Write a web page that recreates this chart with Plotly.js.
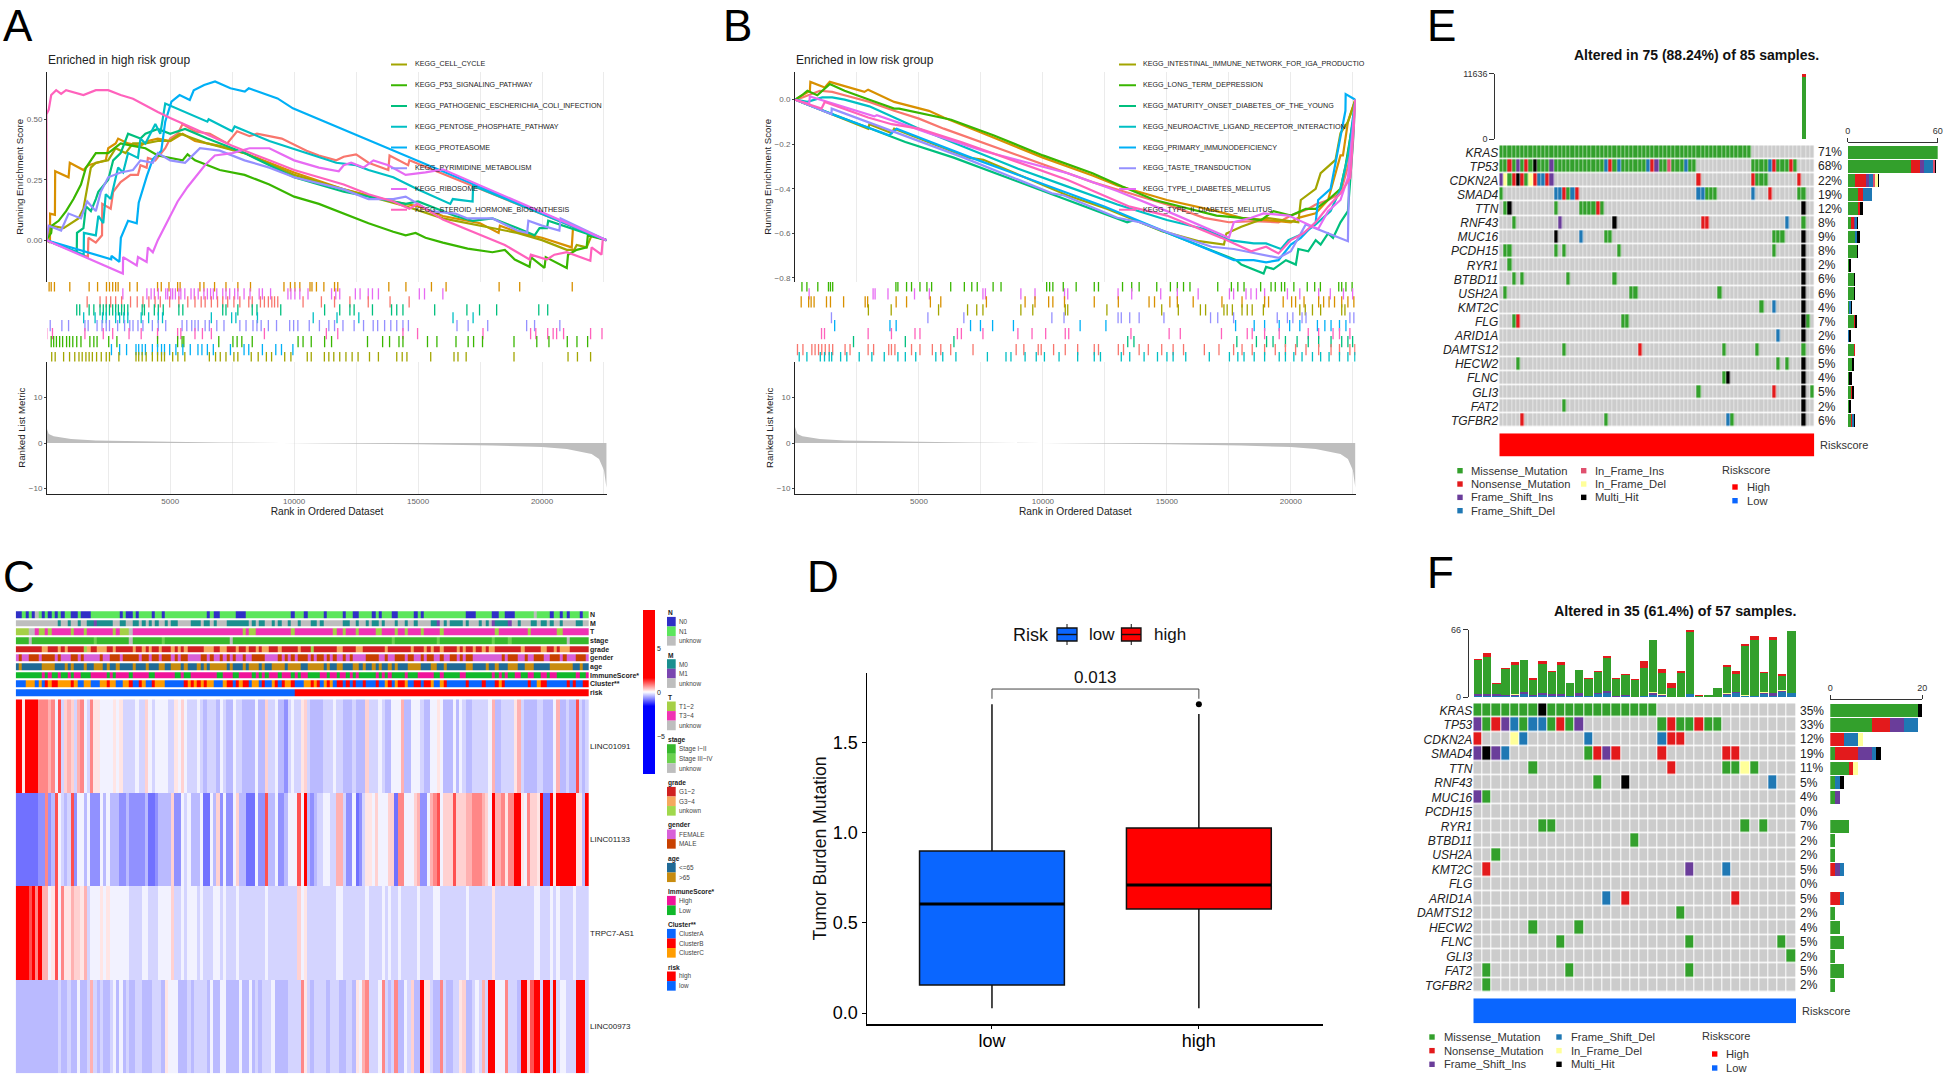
<!DOCTYPE html>
<html><head><meta charset="utf-8">
<script src="https://cdn.plot.ly/plotly-3.0.1.min.js"></script>
<style>html,body{margin:0;padding:0;background:#fff}</style>
</head><body><div id="chart" style="width:1944px;height:1078px"></div>
<script>
/* ---------- Panel A: GSEA running scores, [rank, score] ---------- */
const A_RAW_SALMON=[[1,0],[1680,-.07],[1700,.01],[2000,-.01],[2250,.02],[2260,.15],[2600,.13],[2700,.2],[3000,.24],[3400,.27],[3700,.27],[3800,.31],[4050,.30],[4100,.34],[4400,.33],[4800,.38],[5000,.42],[5300,.44],[5500,.48],[6000,.45],[6600,.44],[7300,.40],[7700,.45],[8200,.43],[8500,.44],[9500,.42],[10500,.37],[11000,.35],[11700,.33],[12000,.345],[12500,.355],[13000,.32],[13800,.29],[13850,.35],[14600,.31],[14650,.33],[22600,0]];
const A_RAW_ORANGE=[[1,0],[150,-.01],[155,.11],[350,.105],[360,.285],[900,.26],[950,.32],[1500,.29],[1700,.31],[2400,.33],[2500,.38],[2800,.40],[2900,.42],[3300,.40],[3800,.39],[4100,.41],[4500,.42],[5000,.41],[5500,.44],[6000,.41],[7000,.39],[8000,.36],[10000,.28],[12000,.21],[14000,.16],[15000,.14],[16000,.10],[17500,.07],[18250,.03],[18300,.06],[19100,.03],[20000,.01],[21200,-.03],[21250,.05],[22600,0]];
const A_CELL_CYCLE=[[1,0],[200,.06],[700,.05],[1000,.07],[1300,.09],[1500,.13],[1650,.22],[1800,.30],[2000,.32],[2500,.33],[2800,.38],[3200,.36],[3500,.40],[4000,.40],[4500,.41],[5000,.41],[5400,.44],[6500,.40],[8000,.36],[10000,.27],[12000,.21],[14500,.14],[16000,.09],[17500,.06],[19000,.03],[20000,0],[21000,-.04],[21300,-.04],[21400,-.02],[21800,-.03],[22000,.02],[22600,0]];
const A_P53=[[1,0],[200,.03],[230,.06],[500,.08],[800,.12],[1100,.17],[1400,.23],[1600,.30],[1800,.33],[2000,.36],[2500,.36],[3000,.40],[3500,.39],[4000,.38],[4500,.35],[5000,.34],[5500,.33],[5700,.355],[6000,.33],[7000,.29],[8000,.27],[9000,.23],[10000,.18],[11000,.15],[12000,.11],[13000,.07],[14000,.035],[14500,.02],[14900,.03],[15300,.01],[16000,-.01],[17000,-.035],[18000,-.05],[18500,-.04],[18900,-.08],[19500,-.11],[19550,-.07],[20100,-.115],[20150,-.07],[21000,-.115],[21050,-.06],[21400,-.04],[21800,-.03],[21850,.02],[22600,0]];
const A_PATHOGENIC=[[1,0],[1230,-.05],[1240,.03],[1500,.05],[1600,.14],[1800,.12],[2000,.17],[2100,.20],[2500,.25],[2700,.33],[3000,.36],[3300,.44],[3800,.42],[4000,.44],[4500,.46],[5000,.44],[5600,.46],[6500,.42],[8000,.36],[10000,.26],[12000,.20],[13000,.18],[14500,.15],[15000,.16],[16500,.10],[17200,.08],[18000,.09],[19000,.05],[19700,.02],[19900,.05],[20200,.05],[20250,.08],[22600,0]];
const A_PENTOSE=[[1,0],[1510,-.06],[1520,.03],[2000,.02],[2100,.10],[2300,.07],[2400,.19],[2600,.17],[2900,.3],[3100,.28],[3300,.36],[3700,.34],[3800,.42],[4000,.40],[4200,.44],[4400,.48],[4600,.44],[4800,.565],[6500,.49],[6550,.50],[7500,.45],[7600,.47],[9000,.41],[10500,.36],[11700,.32],[12500,.31],[13000,.29],[14000,.26],[15000,.21],[16300,.15],[16400,.17],[17200,.16],[17220,.225],[22600,0]];
const A_PROTEASOME=[[1,0],[2620,-.079],[2630,-.065],[2950,-.09],[3010,.01],[3300,.08],[3650,.07],[3730,.155],[4060,.266],[4300,.335],[4640,.37],[4800,.49],[5050,.573],[5380,.60],[5790,.58],[5950,.62],[6370,.642],[6810,.656],[7430,.628],[8010,.614],[8170,.628],[9330,.586],[9950,.545],[22600,0]];
const A_PYRIMIDINE=[[1,0],[100,.06],[600,.04],[900,.11],[1400,.09],[1650,.16],[2000,.12],[2200,.20],[2500,.26],[3000,.28],[3500,.29],[3800,.33],[4300,.32],[4500,.36],[5000,.33],[5600,.32],[6000,.36],[6200,.38],[7000,.37],[8000,.33],[9000,.30],[10000,.26],[12000,.21],[13000,.17],[14000,.17],[14500,.18],[15000,.15],[15500,.12],[16500,.11],[17000,.09],[18000,.09],[19000,.04],[19400,.03],[19450,.08],[20000,.06],[20700,.04],[20750,.09],[22600,0]];
const A_RIBOSOME=[[1,0],[3090,-.138],[3100,-.07],[3650,-.105],[3700,-.07],[4050,-.09],[4100,-.03],[4300,-.05],[4500,0],[5000,.10],[5300,.16],[5700,.22],[6100,.27],[6400,.31],[6800,.35],[7500,.36],[8200,.38],[9000,.38],[10000,.33],[11000,.30],[11800,.285],[12000,.31],[12300,.32],[12800,.30],[13200,.33],[13800,.31],[14500,.27],[15300,.28],[16000,.293],[22600,0]];
const A_STEROID=[[1,0],[5,.52],[100,.54],[200,.60],[400,.62],[600,.605],[800,.62],[1200,.61],[1500,.60],[2000,.62],[2500,.62],[3000,.60],[3500,.585],[4500,.53],[5000,.505],[6000,.46],[7500,.39],[9000,.33],[10000,.29],[11000,.26],[12000,.23],[13000,.19],[14000,.16],[14650,.13],[14980,.15],[16000,.085],[17500,.02],[18500,-.02],[19500,-.08],[19550,-.06],[20200,-.08],[20500,-.06],[21000,-.05],[21500,-.07],[21950,-.085],[22000,-.03],[22400,-.06],[22450,0]];

/* ---------- Panel B: GSEA running scores ---------- */
const B_RAW_SALMON=[[1,0],[300,.01],[1000,.04],[1500,.035],[2000,.02],[3000,-.01],[4000,-.05],[5000,-.085],[6000,-.13],[8000,-.21],[10000,-.29],[12000,-.37],[13500,-.42],[15000,-.47],[16500,-.53],[17500,-.55],[18500,-.545],[19500,-.55],[20000,-.52],[20700,-.49],[21000,-.47],[21500,-.45],[22000,-.42],[22300,-.3],[22500,-.15],[22600,0]];
const B_RAW_ORANGE=[[1,0],[300,.02],[600,.04],[620,.08],[1200,.055],[1400,.08],[2000,.06],[2800,.035],[2950,.045],[4000,-.01],[5400,-.05],[6000,-.08],[8000,-.17],[10000,-.26],[12000,-.34],[13000,-.385],[15000,-.45],[17000,-.5],[18000,-.53],[19000,-.54],[20000,-.55],[20300,-.53],[21000,-.51],[21500,-.45],[22000,-.25],[22100,-.25],[22300,-.1],[22600,0]];
const B_IGA=[[1,0],[2950,-.13],[3000,-.11],[3900,-.15],[4000,-.13],[5800,-.21],[7000,-.26],[7600,-.27],[9100,-.34],[11000,-.43],[12600,-.49],[14800,-.59],[16300,-.635],[17300,-.65],[17400,-.6],[18000,-.57],[19000,-.53],[20300,-.55],[20400,-.45],[21000,-.40],[21200,-.33],[21800,-.27],[22000,-.15],[22300,-.1],[22600,0]];
const B_LTD=[[1,0],[280,.02],[500,.04],[900,.02],[1400,.07],[2000,.04],[3000,0],[4000,-.04],[4200,-.04],[5000,-.06],[6300,-.09],[8000,-.16],[10000,-.25],[12000,-.33],[13200,-.39],[14500,-.45],[16000,-.49],[17000,-.52],[18000,-.53],[18800,-.54],[19300,-.50],[20000,-.52],[20600,-.49],[21000,-.49],[21500,-.45],[22000,-.4],[22200,-.3],[22500,-.1],[22600,0]];
const B_MODY=[[1,0],[2350,-.1],[4450,-.19],[6400,-.26],[13400,-.55],[13700,-.54],[17800,-.72],[18000,-.74],[18900,-.78],[19000,-.75],[19300,-.76],[19800,-.72],[20200,-.74],[20300,-.67],[20700,-.68],[21000,-.63],[21200,-.65],[21500,-.60],[21700,-.62],[22000,-.55],[22300,-.5],[22500,-.2],[22600,0]];
const B_NEURO=[[1,0],[500,-.01],[1100,.01],[1500,.01],[2000,0],[3000,-.03],[4000,-.08],[5000,-.13],[7000,-.22],[9000,-.31],[11000,-.39],[13000,-.47],[15000,-.54],[16500,-.58],[17500,-.63],[18500,-.645],[19000,-.645],[19600,-.67],[19900,-.63],[20500,-.60],[21000,-.56],[21600,-.5],[22000,-.4],[22300,-.25],[22600,0]];
const B_PID=[[1,0],[1600,-.07],[3800,-.16],[4100,-.13],[7100,-.26],[8800,-.33],[11500,-.44],[12500,-.48],[17700,-.72],[18500,-.72],[19000,-.73],[19500,-.72],[20000,-.65],[20400,-.62],[21000,-.55],[21100,-.45],[21600,-.40],[21800,-.28],[22200,-.05],[22210,.025],[22600,0]];
const B_TASTE=[[1,0],[1470,-.065],[1480,-.04],[5360,-.2],[6800,-.26],[10360,-.42],[10850,-.43],[13000,-.53],[13900,-.55],[14900,-.59],[16800,-.66],[17700,-.67],[19500,-.71],[20000,-.68],[20400,-.60],[20600,-.56],[22300,-.635],[22350,-.3],[22600,0]];
const B_T1D=[[1,0],[570,-.02],[600,.015],[3200,-.075],[3300,-.07],[5400,-.15],[7600,-.23],[11000,-.33],[13000,-.41],[15000,-.5],[17500,-.62],[17700,-.55],[18400,-.53],[18900,-.51],[19900,-.52],[20500,-.55],[21100,-.58],[21500,-.50],[22000,-.45],[22300,-.35],[22500,-.15],[22600,0]];
const B_T2D=[[1,0],[1070,-.04],[1200,-.01],[2950,-.08],[3900,-.11],[5000,-.13],[6700,-.19],[9000,-.28],[11000,-.36],[13500,-.48],[15000,-.52],[17200,-.62],[18400,-.68],[19000,-.66],[19500,-.69],[20000,-.63],[20500,-.60],[21000,-.55],[21500,-.48],[22000,-.42],[22400,-.35],[22550,-.1],[22600,0]];

/* ---------- Gene-set hit ranks (rug rows, top to bottom) ---------- */
const A_HITS=[
['#D89000',[115,200,330,950,1730,2070,2430,2550,2680,2800,2900,3370,3670,4490,4640,4950,5300,5400,6200,6360,6790,7250,7730,8240,9590,9850,10030,10230,10640,10720,10900,11200,11630,11760,13820,14510,15540,16130,18270,19100,21220]],
['#E76BF3',[3090,4060,4230,4360,4520,4820,4900,5020,5100,5210,5350,5430,5590,5840,5970,6130,6360,6500,6630,6740,6880,7120,7250,7400,7600,7730,7980,8220,8590,8720,9050,9750,9870,10030,10230,10560,11510,11680,11840,12470,12660,12990,13160,13400,15050,15260,16000]],
['#F8766D',[1650,2170,2420,2600,2800,3040,3400,3670,3900,4140,4390,4600,4980,5350,5710,6000,6250,6410,6660,6910,7120,7320,7570,7810,8170,8310,8640,8800,8960,9100,9210,9340,10360,11100,11630,12250,12990,13870,14640]],
['#00BF7D',[1230,1350,1730,1920,2170,2300,2420,2550,2680,2800,2910,3040,3150,3290,3870,3960,4360,4520,4720,5350,5510,7120,7250,7730,8310,8500,9460,11230,11840,12250,12420,13160,13930,14140,14390,15670,16970,17480,18170,19870,20230]],
['#00BFC4',[1510,1970,2270,2420,2800,2960,3130,3290,3830,4130,4520,4690,6660,7480,7650,8520,10770,11730,12610,16410,17220]],
['#9590FF',[160,630,900,1560,1690,2050,2250,2420,2550,2880,3160,3370,3500,3700,3900,4280,4520,4820,5480,5670,5870,6000,6130,6410,6580,6880,7170,7810,8060,8340,8500,8670,8960,9290,9820,9980,10150,10610,11020,11400,11630,11970,12420,12800,13190,13370,13650,13900,14140,14390,14610,16570,17020,17810,19380,19700,20720]],
['#FF62BC',[20,250,1560,2300,2680,3340,3830,4490,5300,5430,6000,6300,6660,8800,11300,11760,14390,14980,17620,19540,19750,20230,20450,20590,20870,21960,22420]],
['#39B600',[200,300,410,540,660,820,940,1070,1230,1400,1760,1920,2050,2520,2850,4490,5300,5480,5550,6960,7530,7700,7890,8310,10160,10360,10690,11230,11510,12960,13570,13850,14230,14390,15380,15760,16530,17020,17240,17600,18870,19790,20280,21020,21410,21840]],
['#00B0F6',[2630,2960,3240,3620,3730,3870,4000,4280,4490,4650,4770,4980,5230,5510,5810,6120,6280,6500,6740,7430,7980,8170,8720,9260,9490,9950]],
['#A3A500',[220,360,700,940,1150,1320,1450,1600,1730,1860,2030,2220,2420,2550,2930,3620,3730,3870,4030,4280,4490,4650,4770,5100,5310,5590,6580,6830,7020,7250,7570,7730,8270,8550,8880,9090,9620,9870,10530,10690,11220,11400,11600,11840,12090,12340,12580,13040,13400,14140,14360,14550,15510,16450,16610,16940,18870,21050,21430,21960]]];
const B_HITS=[
['#39B600',[280,480,920,1350,1430,1520,4070,4150,4500,4700,5040,5320,5510,6280,6830,7130,7350,7990,8310,10150,10270,10400,10820,11340,12070,12240,13210,13580,13880,14590,15140,15420,15670,15930,17050,17600,17860,18110,18780,19200,19370,19620,19750,20120,20660,20960,21190,21930,22050,22220,22470]],
['#E76BF3',[570,3150,3230,3750,4820,5420,7580,7680,9110,9680,10870,11000,13030,13580,14750,15420,16260,17520,17690,18190,18390,18610,18940,19860,20360,21120,21590,22120,22490]],
['#D89000',[250,550,650,770,1270,1430,1960,2830,2930,4080,4500,5460,5880,7720,9280,9680,10230,10400,10870,12070,13040,14280,14500,15120,15420,16060,17220,18030,18940,19100,19690,20030,20190,20530,21120,21320,21540,21760,22050,22300,22540]],
['#A3A500',[2960,3880,5790,6960,7330,7580,9110,9590,10900,11000,12580,14790,15460,16350,16560,17300,17430,17640,18030,18240,18440,18890,20360,20580,20870,21200,22050,22180]],
['#9590FF',[1470,5360,6810,10360,10850,13030,13160,13500,13880,14880,16760,17050,17690,19450,19860,20080,20450,20610,22380,22540]],
['#00B0F6',[1600,3830,4080,7080,7480,7970,8810,11500,12540,17770,18520,18940,19530,19950,20360,21070,21370,21620,21960,22220]],
['#FF62BC',[1070,1190,2950,3890,4840,5040,6550,6710,7580,8990,9560,10110,10900,11040,13550,15090,15540,17200,18240,18440,18940,19530,20700,21120,21700,21960,22380]],
['#00BF7D',[2360,4450,6410,13420,13670,17820,18610,19020,19280,19780,20250,20700,21120,21620,22050,22300,22490]],
['#F8766D',[100,320,680,810,950,1080,1220,1380,1520,2020,2220,2950,3170,3780,3890,4030,4700,5040,5540,5880,6280,7180,8920,9230,9810,9930,10430,10900,11400,12070,12240,13040,13250,13880,14250,14790,15250,15670,16510,17100,17690,18030,18440,18940,19370,19780,20190,20610,21120,21620,21960,22380,22580]],
['#00BFC4',[170,480,1020,1190,1380,1480,1840,2090,2590,3100,3600,4150,4450,4870,5680,5960,6490,7760,8510,8710,9280,9730,10060,10650,11400,12070,12320,13160,13500,14080,14620,15000,15250,15760,16710,17520,17860,18110,18520,18940,19530,19780,20120,20450,20870,21200,21540,21960,22300,22580]]];
const METRIC_RANK=[1,100,300,1000,2000,3000,5000,7000,9000,9700,10400,12000,15000,18000,20000,21000,22000,22300,22500,22600];
const METRIC_VAL =[3.5,2,1.5,.9,.55,.4,.25,.12,.04,0,0,-.08,-.25,-.55,-.9,-1.3,-2.4,-3.5,-6,-9.8];
const RANK_TICKS=[5000,10000,15000,20000];
const A_SCORE_TICKS=[0,.25,.5], A_SCORE_LABELS=['0.00','0.25','0.50'];
const B_SCORE_TICKS=[-.8,-.6,-.4,-.2,0], B_SCORE_LABELS=['\u22120.8','\u22120.6','\u22120.4','\u22120.2','0.0'];
const A_LEGEND=['KEGG_CELL_CYCLE','KEGG_P53_SIGNALING_PATHWAY','KEGG_PATHOGENIC_ESCHERICHIA_COLI_INFECTION','KEGG_PENTOSE_PHOSPHATE_PATHWAY','KEGG_PROTEASOME','KEGG_PYRIMIDINE_METABOLISM','KEGG_RIBOSOME','KEGG_STEROID_HORMONE_BIOSYNTHESIS'];
const B_LEGEND=['KEGG_INTESTINAL_IMMUNE_NETWORK_FOR_IGA_PRODUCTIO','KEGG_LONG_TERM_DEPRESSION','KEGG_MATURITY_ONSET_DIABETES_OF_THE_YOUNG','KEGG_NEUROACTIVE_LIGAND_RECEPTOR_INTERACTION','KEGG_PRIMARY_IMMUNODEFICIENCY','KEGG_TASTE_TRANSDUCTION','KEGG_TYPE_I_DIABETES_MELLITUS','KEGG_TYPE_II_DIABETES_MELLITUS'];
const LEGEND_COLORS=['#A3A500','#39B600','#00BF7D','#00BFC4','#00B0F6','#9590FF','#E76BF3','#FF62BC'];

/* ---------- Panel C: annotation tracks (start column + level) ---------- */
const C_COLS=177;
const TRACK_NAMES=['N','M','T','stage','grade','gender','age','ImmuneScore*','Cluster**','risk'];
const T_N="0a 2b 3a 4b 5a 6c 7b 8a 9b 10a 11b 12a 13b 14a 15b 17a 19b 20a 23b 32a 33b 34a 36b 37a 38b 42a 43b 45a 46b 59a 60b 61a 63b 68a 71b 85a 86b 89a 90b 95a 96b 101a 102b 104a 106b 110a 111b 112a 113b 116a 118b 123a 124b 125a 126b 139a 142b 147a 149b 151a 154b 160c 161b 165a 166b 168a 169b 170a 171b 174a 175b";
const T_M="0c 13a 14c 16a 17c 19a 20c 22a 24b 25a 30c 32a 34c 36a 38c 39a 40c 41a 42c 43a 44c 46a 47c 48a 50c 54a 57c 58a 60c 61a 62c 65a 72c 73a 74c 75a 77c 79a 80c 81a 82c 84a 85c 87a 88c 91a 93c 94a 95c 101a 103c 105a 106c 108a 109c 110a 112c 113a 114c 117a 118c 120a 121c 123a 124c 128a 130b 131c 132a 133c 134a 138c 139a 140c 143a 144c 145a 146c 147b 148a 152b 153c 155a 156c 159a 161c 162a 164c 165a 166c 168a 169c 173a 175c";
const T_T="0a 4c 6b 7a 9b 10a 11b 17a 18b 21a 22b 30a 31b 32a 35c 36b 70a 71b 72a 74b 85a 86b 98a 99b 101a 102b 105a 106b 111a 113b 117a 118b 120a 121b 125a 126b 131a 132b 148a 149b 158a 159b 167a 169b";
const T_STAGE="0a 4c 5a 24b 25a 35c 36a 45b 46a 66c 67a 116b 117a 130b 131a 147b 148a 152b 153a 170c 171a";
const T_GRADE="0a 8b 10a 13b 14a 15b 16a 21c 22b 23a 25b 28a 30b 31a 36b 37a 39b 40a 41b 42a 44b 45a 48b 49a 50b 51a 52b 53a 58b 61a 63b 65a 68b 69a 71b 72a 74b 75a 76b 78a 81b 82a 87b 88a 91c 92a 99b 101a 105b 107a 114b 115a 122b 123a 126b 127a 128b 129a 131b 132a 136b 137a 138b 139a 141b 142a 144b 145a 146b 148a 156b 157a 162b 164a 166b 167a 168b 171a";
const T_GENDER="0a 1b 2a 4b 7a 8b 12a 13b 14a 17b 19a 20b 21a 26b 27a 29b 32a 33b 38a 39b 41a 42b 44a 45b 48a 49b 50a 51b 53a 57b 59a 60b 61a 63b 64a 65b 66a 67b 68a 70b 71a 73b 77a 81b 82a 83b 84a 85b 86a 87b 90a 91b 92a 93b 95a 96b 97a 98b 99a 101b 102a 103b 104a 108b 112a 114b 115a 117b 120a 121b 123a 125b 126a 127b 129a 131b 132a 134b 136a 137b 138a 139b 141a 150b 151a 152b 155a 157b 158a 160b 163a 165b 168a 169b 170a 173b 176a";
const T_AGE="0a 1b 2a 8b 12a 15b 16a 17b 18a 21b 22a 24b 27a 28b 29a 31b 32a 36b 37a 40b 41a 44b 46a 48b 51a 52b 53a 56b 57a 58b 59a 60b 65a 66b 67a 70b 71a 72b 75a 76b 77a 79b 83a 84b 88a 90b 95a 96b 97a 99b 101a 104b 106a 107b 108a 110b 111a 112b 113a 115b 116a 117b 118a 121b 125a 128b 130a 132b 133a 139b 141a 145b 146a 148b 149a 152b 155a 157b 160a 165b 172a 174b 175a";
const T_IMMUNE="0b 8a 9b 10a 11b 13a 14b 16a 17b 18a 20b 23a 28b 29a 30b 31a 35b 36a 41b 43a 49b 51a 52b 54a 62b 64a 67b 69a 73b 74a 75b 76a 77b 78a 81b 82a 85b 86a 87b 88a 90b 94a 96b 97a 99b 100a 102b 103a 104b 105a 106b 111a 112b 113a 114b 115a 116b 120a 121b 124a 129b 131a 132b 137a 139b 147a 148b 149a 150b 151a 152b 154a 156b 158a 160b 162a 164b 165a 167b 173a 174b 176a";
const T_CLUSTER="0a 3c 6a 7c 8a 9b 10c 11b 13c 17b 18c 19a 21c 23a 26c 28b 29c 31a 33c 35b 36a 38b 39c 40a 42b 43c 46a 52b 53c 54b 55c 56b 57c 58b 59c 61a 64c 65b 67a 68b 69c 70b 72a 73c 75a 76b 77a 79c 80b 81a 82b 83c 85b 86a 89c 91b 92c 93b 94a 95c 96b 97c 98a 99b 101a 102b 103a 104b 105a 107b 108a 111b 112a 114c 115b 116a 117c 118b 120c 121a 123b 125a 126b 128c 129a 131c 132b 133a 139b 140a 144b 145a 148b 149c 150b 151a 158b 159a 161c 162b 164a 170b 171a 172b 173a 175b";
const T_RISK="0a 86b";
const TRACK_PALETTES=[['#2F2FC6','#5CE65C','#BEBEBE'],['#1A8F8F','#7A45B0','#BEBEBE'],['#A5D046','#F032B4','#BEBEBE'],['#38B82C','#6CD24F','#BEBEBE'],['#D02020','#F5A95E','#A0D84C'],['#D860D8','#C84000'],['#206A96','#C88C10'],['#F0149A','#10B82A'],['#0A66FF','#FF0000','#FF9C00'],['#0A66FF','#FF0000']];

/* ---------- Panel C: expression, one letter per sample ---------- */
const HEAT_GENES=['LINC01091','LINC01133','TRPC7-AS1','LINC00973'];
const LEVELS={a:-.89,b:-.69,c:-.43,d:-.27,e:-.08,f:.16,g:.29,h:.49,i:.75,j:1.09,k:3};
const H_LINC01091="kkfkkkkiii hiejdghgdh iediffeeee fefddddedd gedeeeeddf egedddedcd ddcedccedd cccceccgdd eccbdeddfg dccccddded dcccdcccgd ddedcceeeh cceeedccee fecccecedc cdddddehcc ddddfhdccc cddcccehcc dccjdcd";
const H_LINC01133="aaaaaaabbi bcjedcdjbe ecebbbecec ccbbcbbbbb caabccccgb bedeccceaa ecgbebbegc caaaebbjcc ebbceeejek cbcddeeddh hdbbeabdff egeeeggaii eeeghbbehi jegggjgggh hiiihgekhh ifiikkfeig gfkaakfkkk kkkffck";
const H_TRPC7="kkkkjkikhh efjeiffhgg fhdeeefefe eeeeedddde edddeeeegd dedeeededd deededdded dddddddedd dddddddgef ddddddddde eddddddded dddededded ddddedddde edddddddde dddddddfdd dddddddddd eedddededd ddedddd";
const H_LINC00973="cccccccccc cccdccdcce ccdhdcdccd ececdccddc ccdddcfeee cccdcddddc ecceecccce ccecdcddde ccccddddif dcddddcddd ccddcfehid ddeidcdicc edgcckffdc cidccddfgc cdedhdkkee eidddckkgj kkdkkdkdee dddkkkd";
const C_SCALE_TICKS=[-5,0,5];
const C_LEGEND=[['N',['N0','N1','unknow'],TRACK_PALETTES[0]],['M',['M0','M1','unknow'],TRACK_PALETTES[1]],['T',['T1~2','T3~4','unknow'],TRACK_PALETTES[2]],['stage',['Stage I~II','Stage III~IV','unknow'],TRACK_PALETTES[3]],['grade',['G1~2','G3~4','unkown'],TRACK_PALETTES[4]],['gender',['FEMALE','MALE'],TRACK_PALETTES[5]],['age',['<=65','>65'],TRACK_PALETTES[6]],['ImmuneScore*',['High','Low'],TRACK_PALETTES[7]],['Cluster**',['ClusterA','ClusterB','ClusterC'],TRACK_PALETTES[8]],['risk',['high','low'],['#FF0000','#0A66FF']]];

/* ---------- Panel D: box summary ---------- */
const D_GROUPS=['low','high'];
const D_Q1=[.155,.577], D_MEDIAN=[.605,.71], D_Q3=[.899,1.027], D_LOW=[.026,.026], D_HIGH=[1.713,1.66];
const D_OUTLIER_Y=[1.713];
const D_P='0.013';
const D_TICKS=[0,.5,1,1.5], D_TICK_LABELS=['0.0','0.5','1.0','1.5'];

/* ---------- Panels E, F: oncoplots ---------- */
const GENES_E=['KRAS','TP53','CDKN2A','SMAD4','TTN','RNF43','MUC16','PCDH15','RYR1','BTBD11','USH2A','KMT2C','FLG','ARID1A','DAMTS12','HECW2','FLNC','GLI3','FAT2','TGFBR2'];
const PCT_E=['71%','68%','22%','19%','12%','8%','9%','8%','2%','6%','6%','4%','7%','2%','6%','5%','4%','5%','2%','6%'];
const PCT_F=['35%','33%','12%','19%','11%','5%','4%','0%','7%','2%','2%','5%','0%','5%','2%','4%','5%','2%','5%','2%'];
const MUT_E=["0:59m","0:1m 2n 3m 4i 5m 6n 7m 8h 9:11m 12i 13:24m 25d 26n 27m 28d 29:34m 35d 36n 37i 38:39m 40p 41:43m 44d 45:46m 60:63m 64d 65n 66:68m 69n 70m","0i 1y 2m 3n 4h 5n 6m 7y 8n 9:10d 11n 12i 47n 60n 61:63m 71n","0m 13:14d 15n 16m 17d 18n 47:48d 49:51m 60d 64n 71:72m","1m 2h 13m 19:22m 23n 24m 72h","3m 14i 27h 48:49n 68d 72m","13h 19d 25:26m 65:67m 72h","1:2m 13m 15m 28m 65m 72h","2m 72h","3m 5m 16m 27m 72h","1m 31:32m 52m 72h","62m 65d 72h","3m 4n 29:30m 72h 73m","66d 72h","15m 33n 53m 61m 72m","4m 66m 68m 72h","53m 54h 72h","47m 65n 72h 74m","15m 72h","5n 25m 54d 55m 72h"];
const MUT_F=["0:6m 7h 8:19m","0i 1m 2n 3i 4d 5m 6:7d 8m 9n 10m 11i 20m 21n 22:23m 24n 25:26m","0n 4y 5d 12d 20d 21:22n","0i 1h 2i 3d 12m 13n 14i 15n 20n 27:28n","6m 21n 27:28m 29y 30m","13m 16h 32d","0i 1m","","7:8m 29m 31m","17m","2m","1n 23i 27d","","14d 16n 28n","22m","6m 11m","9m 23m 33m","34m","1m 10m 23m","1m"];
const MUT_CODES={m:1,n:2,i:3,d:4,p:5,y:6,h:7};
const MUT_COLORS=['#CCCCCC','#33A02C','#E31A1C','#6A3D9A','#1F78B4','#E0506E','#FFFF99','#000000'];
const BAR_E={m:[60,42,5,7,7,2,5,6,1,4,4,1,4,0,4,3,1,2,1,2],n:[0,6,7,3,1,2,0,0,0,0,0,0,1,0,1,0,0,1,0,1],i:[0,3,2,0,0,1,0,0,0,0,0,0,0,0,0,0,0,0,0,0],d:[0,6,3,6,0,1,1,0,0,0,0,1,0,1,0,0,0,0,0,1],p:[0,1,1,0,0,0,0,0,0,0,0,0,0,0,0,0,0,0,0,0],y:[0,0,2,0,0,0,0,0,0,0,0,0,0,0,0,0,0,0,0,0],h:[0,1,1,0,2,1,2,1,1,1,1,1,1,1,0,1,2,1,1,1]};
const BAR_F={m:[19,9,0,1,4,1,1,0,4,1,1,0,0,0,1,2,3,1,3,1],n:[0,4,3,5,1,0,0,0,0,0,0,1,0,2,0,0,0,0,0,0],i:[0,3,0,3,0,0,1,0,0,0,0,1,0,0,0,0,0,0,0,0],d:[0,3,3,1,0,1,0,0,0,0,0,1,0,1,0,0,0,0,0,0],p:[0,0,0,0,0,0,0,0,0,0,0,0,0,0,0,0,0,0,0,0],y:[0,0,1,0,1,0,0,0,0,0,0,0,0,0,0,0,0,0,0,0],h:[1,0,0,1,0,1,0,0,0,0,0,0,0,0,0,0,0,0,0,0]};
const TMB_E_SAMPLE_MISS=[60,40,55,30,45,70,35,50,65,40,30,55,45,60,35,50,40,30,65,45,55,35,60,40,50,30,45,70,35,55,40,60,30,50,45,35,65,40,55,30,50,60,35,45,40,70,30,55,50,35,60,45,40,30,65,50,35,55,45,40,60,30,50,35,45,70,40,55,30,60,45,35,11000,50,40];
const TMB_E_SAMPLE_NON=[8,5,10,4,6,9,5,7,8,5,4,7,6,8,5,7,5,4,8,6,7,5,8,5,7,4,6,9,5,7,5,8,4,7,6,5,8,5,7,4,7,8,5,6,5,9,4,7,7,5,8,6,5,4,8,7,5,7,6,5,8,4,7,5,6,9,5,7,4,8,6,5,636,7,5];
const TMB_F_DEL=[1.5,1,1,1,1,3,1,2,1.5,1.5,1,1,1,3,4,.5,1.5,0,1,2,1,0,0,3,0,0,0,2,4,1,1,3,1,5,4];
const TMB_F_INS=[2,2,2,1,1,2,1.5,2,1.5,1.5,0,3,.5,1,2,.5,.5,0,.5,2,1,0,0,0,0,0,0,1,1,.5,0,1,3,1,0];
const TMB_F_IFD=[0,0,0,0,1,0,0,0,0,0,0,0,0,0,0,0,0,0,0,1,1,0,0,0,0,0,0,1,0,.5,0,1,0,1,0];
const TMB_F_MISS=[32.5,36,10,26,29,31,14.5,29,21.5,29,13,23,16.5,21,32,16.5,20,17,27.5,51,21,9,24,61,1,2,9,26,18,48,55,19,52,14,61];
const TMB_F_NON=[1,4,1,1,2,0,2,2,1.5,2,0,0,1,1,2,1.5,1,1,6,0,4,5,2,2,1,0,0,2,3,2,4,1,3,2,0];

/* ---------- helpers ---------- */
const W=1944,H=1078;
const SANS='"Liberation Sans",Arial,sans-serif';
const dx=(a,b)=>[a/W,b/W], dy=(top,bot)=>[1-bot/H,1-top/H];
const px=x=>x/W, py=y=>1-y/H;
const traces=[], shapes=[], ann=[], layout={};
const txt=(x,y,t,o={})=>ann.push(Object.assign({xref:'paper',yref:'paper',x:px(x),y:py(y),text:t,showarrow:false,xanchor:'left',yanchor:'middle',borderpad:0,font:{size:o.size||10,family:SANS,color:o.color||'#222',weight:o.weight||'normal'}},o.extra||{}));
const rect=(x0,y0,x1,y1,fill,lw,lc)=>shapes.push({type:'rect',xref:'paper',yref:'paper',x0:px(x0),x1:px(x1),y0:py(y0),y1:py(y1),fillcolor:fill,line:{width:lw||0,color:lc||fill},layer:'above'});
const seg=(x0,y0,x1,y1,c,w)=>shapes.push({type:'line',xref:'paper',yref:'paper',x0:px(x0),x1:px(x1),y0:py(y0),y1:py(y1),line:{color:c,width:w},layer:'above'});
const setAxes=(n,xo,yo)=>{layout['xaxis'+n]=Object.assign({anchor:'y'+n,showgrid:false,zeroline:false},xo);layout['yaxis'+n]=Object.assign({anchor:'x'+n,showgrid:false,zeroline:false},yo);};
const hidden={visible:false,showgrid:false,zeroline:false};
const unpack=(s)=>{const r=new Array(C_COLS),t=s.split(' ');t.forEach((tok,i)=>{const st=parseInt(tok),l=tok.slice(-1).charCodeAt(0)-97,en=i+1<t.length?parseInt(t[i+1]):C_COLS;for(let k=st;k<en;k++)r[k]=l;});return r;};
const discrete=(cols)=>{const n=cols.length,out=[];cols.forEach((c,i)=>{out.push([i/n,c],[(i+1)/n,c]);});return out;};
const muts=(s,n)=>{const r=new Array(n).fill(0);s.split(' ').filter(Boolean).forEach(tok=>{const c=MUT_CODES[tok.slice(-1)],b=tok.slice(0,-1).split(':').map(Number);for(let k=b[0];k<=(b[1]===undefined?b[0]:b[1]);k++)r[k]=c;});return r;};

/* ---------- GSEA panels ---------- */
function gsea(n,curves,hits,xr,left,right,yr,yt,yl,title,titleX,legend,legKey0,legKey1,legText){
 const xBase={range:xr,domain:dx(left,right)};
 const grid={showgrid:true,gridcolor:'#EBEBEB',minor:{tick0:0,dtick:2500,showgrid:true,gridcolor:'#EBEBEB'}};
 const tf={size:8,color:'#666',family:SANS};
 setAxes(n,Object.assign({},xBase,grid,{visible:true,showline:false,showticklabels:false,ticks:'',tickvals:RANK_TICKS}),
   {domain:dy(71.6,282),range:yr,tickvals:yt,ticktext:yl,showline:true,linecolor:'#222',linewidth:1,ticks:'outside',ticklen:2,tickcolor:'#444',tickfont:tf,title:{text:'Running Enrichment Score',font:{size:9.7,color:'#222',family:SANS},standoff:1}});
 curves.forEach(([nm,c,d])=>traces.push({type:'scatter',mode:'lines',name:nm,xaxis:'x'+n,yaxis:'y'+n,x:d.map(p=>p[0]),y:d.map(p=>p[1]),line:{color:c,width:2.2},showlegend:false,hoverinfo:'skip'}));
 const nr=n+1;
 setAxes(nr,Object.assign({},xBase,hidden),Object.assign({},hidden,{domain:dy(282,361.5),range:[9.5,-.5]}));
 hits.forEach(([c,r],i)=>traces.push({type:'scatter',mode:'markers',xaxis:'x'+nr,yaxis:'y'+nr,x:r,y:r.map(()=>i),marker:{symbol:'line-ns',size:8,color:c,line:{color:c,width:1.3}},showlegend:false,hoverinfo:'skip'}));
 const nb=n+2;
 setAxes(nb,Object.assign({},xBase,grid,{showline:true,linecolor:'#222',linewidth:1,tickvals:RANK_TICKS,ticktext:RANK_TICKS.map(String),ticks:'',ticklabelstandoff:-1,tickfont:tf,title:{text:'Rank in Ordered Dataset',font:{size:10.2,color:'#222',family:SANS},standoff:1}}),
   {domain:dy(361.5,494),range:[-11.2,17.9],tickvals:[-10,0,10],ticktext:['\u221210','0','10'],showline:true,linecolor:'#222',linewidth:1,ticks:'outside',ticklen:2,tickcolor:'#444',tickfont:tf,title:{text:'Ranked List Metric',font:{size:9.7,color:'#222',family:SANS},standoff:1}});
 traces.push({type:'scatter',mode:'lines',xaxis:'x'+nb,yaxis:'y'+nb,x:METRIC_RANK,y:METRIC_VAL,fill:'tozeroy',fillcolor:'#BEBEBE',line:{width:0,color:'#BEBEBE'},showlegend:false,hoverinfo:'skip'});
 txt(titleX,60,title,{size:12});
 legend.forEach((t,i)=>{const y=64.5+i*20.75;seg(legKey0,y,legKey1,y,LEGEND_COLORS[i],2);txt(legText,y,t,{size:7.15});});
}
gsea(1,[['salmon','#F8766D',A_RAW_SALMON],['orange','#D89000',A_RAW_ORANGE],[A_LEGEND[0],'#A3A500',A_CELL_CYCLE],[A_LEGEND[1],'#39B600',A_P53],[A_LEGEND[2],'#00BF7D',A_PATHOGENIC],[A_LEGEND[3],'#00BFC4',A_PENTOSE],[A_LEGEND[4],'#00B0F6',A_PROTEASOME],[A_LEGEND[5],'#9590FF',A_PYRIMIDINE],[A_LEGEND[6],'#E76BF3',A_RIBOSOME],[A_LEGEND[7],'#FF62BC',A_STEROID]],
 A_HITS,[30,22622],47,607,[-.173,.697],A_SCORE_TICKS,A_SCORE_LABELS,'Enriched in high risk group',46.5,A_LEGEND,391,407,414);
gsea(4,[['salmon','#F8766D',B_RAW_SALMON],['orange','#D89000',B_RAW_ORANGE],[B_LEGEND[0],'#A3A500',B_IGA],[B_LEGEND[1],'#39B600',B_LTD],[B_LEGEND[2],'#00BF7D',B_MODY],[B_LEGEND[3],'#00BFC4',B_NEURO],[B_LEGEND[4],'#00B0F6',B_PID],[B_LEGEND[5],'#9590FF',B_TASTE],[B_LEGEND[6],'#E76BF3',B_T1D],[B_LEGEND[7],'#FF62BC',B_T2D]],
 B_HITS,[0,22610],795,1355.6,[-.818,.126],B_SCORE_TICKS,B_SCORE_LABELS,'Enriched in low risk group',795,B_LEGEND,1119,1136,1142);

/* ---------- Panel C ---------- */
const TRACKS=[T_N,T_M,T_T,T_STAGE,T_GRADE,T_GENDER,T_AGE,T_IMMUNE,T_CLUSTER,T_RISK];
const flatPal=[];const offs=TRACK_PALETTES.map(p=>{const o=flatPal.length;flatPal.push(...p);return o;});
const cols=[...Array(C_COLS).keys()];
setAxes(7,{domain:dx(15.7,589),range:[-.5,176.5],visible:false},{domain:dy(610.2,697),range:[9.5,-.5],side:'right',tickvals:[0,1,2,3,4,5,6,7,8,9],ticktext:TRACK_NAMES,ticks:'',ticklen:0,tickfont:{size:7,family:SANS,weight:'bold',color:'#222'},showline:false});
traces.push({type:'heatmap',xaxis:'x7',yaxis:'y7',x:cols,y:TRACK_NAMES.map((_,i)=>i),z:TRACKS.map((s,i)=>unpack(s).map(v=>v+offs[i]+.5)),zmin:0,zmax:flatPal.length,colorscale:discrete(flatPal),showscale:false,ygap:2,hoverinfo:'skip'});
const rowsHeat=[H_LINC01091,H_LINC01133,H_TRPC7,H_LINC00973].map(s=>s.replace(/ /g,'').split('').map(c=>LEVELS[c]));
setAxes(8,{domain:dx(15.7,589),range:[-.5,176.5],visible:false},{domain:dy(699.3,1073.3),range:[3.5,-.5],side:'right',tickvals:[0,1,2,3],ticktext:HEAT_GENES,ticks:'',tickfont:{size:8,family:SANS,color:'#222'}});
traces.push({type:'heatmap',xaxis:'x8',yaxis:'y8',x:cols,y:[0,1,2,3],z:rowsHeat,zmin:-9.3,zmax:9.3,colorscale:[[0,'#0000FF'],[.414,'#0000FF'],[.5,'#FFFFFF'],[.586,'#FF0000'],[1,'#FF0000']],hoverinfo:'skip',
 colorbar:{x:px(642.7),xanchor:'left',y:py(774.3),yanchor:'bottom',len:164.3/H,thickness:12,xpad:0,ypad:0,outlinewidth:0,tickvals:C_SCALE_TICKS,ticktext:['\u22125','0','5'],ticks:'',tickfont:{size:7,family:SANS,color:'#222'}}});
{const starts=[612.7,655,697.3,740,782.7,825.3,858.7,891.7,924.7,967.3];
 C_LEGEND.forEach(([t,items,cs],g)=>{txt(667,starts[g],t,{size:6.6,weight:'bold'});items.forEach((it,i)=>{const y=starts[g]+9+i*9.57;rect(667,y-4.8,675.7,y+4.8,cs[i]);txt(678,y,it,{size:6.4,color:'#444'});});});}

/* ---------- Panel D ---------- */
const boxColors=['#0A66FF','#FF0000'];
setAxes(9,{domain:dx(867,1323),range:[-.604,1.6],tickvals:[0,1],ticktext:D_GROUPS,showline:true,linecolor:'#000',linewidth:1.5,ticks:'outside',ticklen:3,tickcolor:'#000',ticklabelstandoff:-3,tickfont:{size:18,family:SANS,color:'#000'}},
 {domain:dy(673,1024),range:[-.061,1.887],tickvals:D_TICKS,ticktext:D_TICK_LABELS,showline:true,linecolor:'#000',linewidth:1.5,ticks:'outside',ticklen:4,tickcolor:'#000',tickfont:{size:18,family:SANS,color:'#000'},title:{text:'Tumor Burden Mutation',font:{size:17.6,family:SANS,color:'#111'},standoff:1}});
D_GROUPS.forEach((g,i)=>{traces.push({type:'box',xaxis:'x9',yaxis:'y9',name:g,x:[i],q1:[D_Q1[i]],median:[D_MEDIAN[i]],q3:[D_Q3[i]],lowerfence:[D_LOW[i]],upperfence:[D_HIGH[i]],width:.7,whiskerwidth:0,fillcolor:boxColors[i],line:{color:'#111',width:1.5},boxpoints:false,showlegend:false,hoverinfo:'skip'});
 traces.push({type:'scatter',mode:'lines',xaxis:'x9',yaxis:'y9',x:[i-.35,i+.35],y:[D_MEDIAN[i],D_MEDIAN[i]],line:{color:'#000',width:3},showlegend:false,hoverinfo:'skip'});});
traces.push({type:'scatter',mode:'markers',xaxis:'x9',yaxis:'y9',x:D_OUTLIER_Y.map(()=>1),y:D_OUTLIER_Y,marker:{color:'#000',size:6},showlegend:false,hoverinfo:'skip'});
traces.push({type:'scatter',mode:'lines',xaxis:'x9',yaxis:'y9',x:[0,0,1,1],y:[1.744,1.798,1.798,1.744],line:{color:'#444',width:1},showlegend:false,hoverinfo:'skip'});
ann.push({xref:'x9',yref:'y9',x:.5,y:1.798,yanchor:'bottom',yshift:0,text:D_P,showarrow:false,font:{size:17,family:SANS,color:'#111'}});
txt(1012,634.7,'Risk',{size:18,color:'#111'});
[[1057,1077,'low',1088,0],[1121.5,1141,'high',1152.6,1]].forEach(([a,b,t,tx,i])=>{const c=(a+b)/2;seg(c,624,c,645,'#111',1);rect(a,628,b,641,boxColors[i],1.3,'#111');seg(a,634.5,b,634.5,'#111',1.4);txt(tx,634.7,t,{size:17,color:'#111'});});

/* ---------- Oncoplots ---------- */
const TYPES=['m','n','i','d','p','y','h'];
function onco(n,spec){
 const {genes,pct,matrix,cols:nc,left,right,top,bot,barsL,barsR,barMax,barData,barAxisY,topAxisX,topTop,topBot,topTicks,topRange,riskTop,riskBot,riskColor,xgap,pctX}=spec;
 const idx=[...Array(nc).keys()], ri=genes.map((_,i)=>i);
 setAxes(n,{domain:dx(left,right),range:[-.5,nc-.5],visible:false},{domain:dy(topTop,topBot),range:topRange,tickvals:topTicks,ticktext:topTicks.map(String),anchor:'free',position:px(topAxisX),showline:true,linecolor:'#333',linewidth:1,ticks:'outside',ticklen:5,tickcolor:'#333',tickfont:{size:9,family:SANS,color:'#333'}});
 spec.top_series.forEach(([v,c])=>traces.push({type:'bar',xaxis:'x'+n,yaxis:'y'+n,x:idx,y:v,marker:{color:c,line:{width:0}},showlegend:false,hoverinfo:'skip'}));
 const m=n+1;
 setAxes(m,{domain:dx(left,right),range:[-.5,nc-.5],visible:false},{domain:dy(top,bot),range:[genes.length-.5,-.5],tickvals:ri,ticktext:genes,ticks:'',ticklen:0,tickfont:{size:12,family:SANS,style:'italic',color:'#222'}});
 traces.push({type:'heatmap',xaxis:'x'+m,yaxis:'y'+m,x:idx,y:ri,z:matrix.map(s=>muts(s,nc).map(v=>v+.5)),zmin:0,zmax:8,colorscale:discrete(MUT_COLORS),showscale:false,xgap:xgap,ygap:1.5,hoverinfo:'skip'});
 pct.forEach((p,i)=>ann.push({xref:'paper',yref:'y'+m,x:px(pctX),y:i,xanchor:'left',yanchor:'middle',text:p,showarrow:false,font:{size:12,family:SANS,color:'#222'}}));
 const b=n+2;
 setAxes(b,{domain:dx(barsL,barsR),range:[0,barMax],side:'top',anchor:'free',position:py(barAxisY),tickvals:[0,barMax],showline:true,linecolor:'#333',linewidth:1,ticks:'outside',ticklen:4,tickcolor:'#333',tickfont:{size:9,family:SANS,color:'#333'}},{domain:dy(top,bot),range:[genes.length-.5,-.5],visible:false});
 TYPES.forEach(t=>traces.push({type:'bar',orientation:'h',xaxis:'x'+b,yaxis:'y'+b,y:ri,x:barData[t],marker:{color:MUT_COLORS[MUT_CODES[t]],line:{width:0}},showlegend:false,hoverinfo:'skip'}));
 const r=n+3;
 setAxes(r,{domain:dx(left,right),range:[-.5,nc-.5],visible:false},Object.assign({},hidden,{domain:dy(riskTop,riskBot),range:[-.5,.5]}));
 traces.push({type:'heatmap',xaxis:'x'+r,yaxis:'y'+r,x:idx,y:[0],z:[idx.map(()=>1)],zmin:0,zmax:1,colorscale:[[0,riskColor],[1,riskColor]],showscale:false,hoverinfo:'skip'});
}
onco(10,{genes:GENES_E,pct:PCT_E,matrix:MUT_E,cols:75,left:1499.3,right:1814.3,top:145.3,bot:427.7,barsL:1847.7,barsR:1937.7,barMax:60,barData:BAR_E,barAxisY:141.7,topAxisX:1494.3,topTop:73.7,topBot:139.3,topTicks:[0,11636],topRange:[0,11636],riskTop:433.3,riskBot:456.7,riskColor:'#FF0000',xgap:.5,pctX:1815.5,
 top_series:[[TMB_E_SAMPLE_MISS,MUT_COLORS[1]],[TMB_E_SAMPLE_NON,MUT_COLORS[2]]]});
onco(14,{genes:GENES_E,pct:PCT_F,matrix:MUT_F,cols:35,left:1473.3,right:1796,top:703.3,bot:992.7,barsL:1830.3,barsR:1922.3,barMax:20,barData:BAR_F,barAxisY:699,topAxisX:1467.7,topTop:629.7,topBot:697.3,topTicks:[0,66],topRange:[0,66],riskTop:998.3,riskBot:1023.3,riskColor:'#0A66FF',xgap:1,pctX:1797.5,
 top_series:[[TMB_F_DEL,MUT_COLORS[4]],[TMB_F_INS,MUT_COLORS[3]],[TMB_F_IFD,MUT_COLORS[6]],[TMB_F_MISS,MUT_COLORS[1]],[TMB_F_NON,MUT_COLORS[2]]]});
txt(1696.7,55.5,'Altered in 75 (88.24%) of 85 samples.',{size:14,weight:'bold',color:'#111',extra:{xanchor:'center'}});
txt(1675,610.7,'Altered in 35 (61.4%) of 57 samples.',{size:14.3,weight:'bold',color:'#111',extra:{xanchor:'center'}});
txt(1819,445,'Riskscore',{size:11,color:'#333'});
txt(1801,1011,'Riskscore',{size:11,color:'#333'});
const key=(x,tx,y,t,c)=>{rect(x-2.7,y-2.7,x+2.7,y+2.7,c);txt(tx,y,t,{size:11.2,color:'#333'});};
[['Missense_Mutation',1],['Nonsense_Mutation',2],['Frame_Shift_Ins',3],['Frame_Shift_Del',4]].forEach(([t,c],i)=>key(1460,1470,470.7+i*13.33,t,MUT_COLORS[c]));
[['In_Frame_Ins',5],['In_Frame_Del',6],['Multi_Hit',7]].forEach(([t,c],i)=>key(1583.7,1594,470.7+i*13.33,t,MUT_COLORS[c]));
txt(1721,470,'Riskscore',{size:11,color:'#333'});key(1735,1745.7,487,'High','#FF0000');key(1735,1745.7,500.7,'Low','#0A66FF');
[['Missense_Mutation',1],['Nonsense_Mutation',2],['Frame_Shift_Ins',3]].forEach(([t,c],i)=>key(1432,1442.7,1037+i*13.65,t,MUT_COLORS[c]));
[['Frame_Shift_Del',4],['In_Frame_Del',6],['Multi_Hit',7]].forEach(([t,c],i)=>key(1559,1569.7,1037+i*13.65,t,MUT_COLORS[c]));
txt(1700.7,1036,'Riskscore',{size:11,color:'#333'});key(1714.7,1725,1054,'High','#FF0000');key(1714.7,1725,1068,'Low','#0A66FF');

/* ---------- Panel letters ---------- */
[['A',2,26],['B',722,26],['C',2,576],['D',806,576],['E',1426,26],['F',1426,572]].forEach(([t,x,y])=>txt(x,y,t,{size:44,color:'#000'}));

Object.assign(layout,{width:W,height:H,margin:{l:0,r:0,t:0,b:0},paper_bgcolor:'#fff',plot_bgcolor:'rgba(0,0,0,0)',showlegend:false,barmode:'stack',bargap:.1,boxmode:'overlay',shapes:shapes,annotations:ann,font:{family:SANS}});
Plotly.newPlot('chart',traces,layout,{displayModeBar:false,staticPlot:true});
</script></body></html>
